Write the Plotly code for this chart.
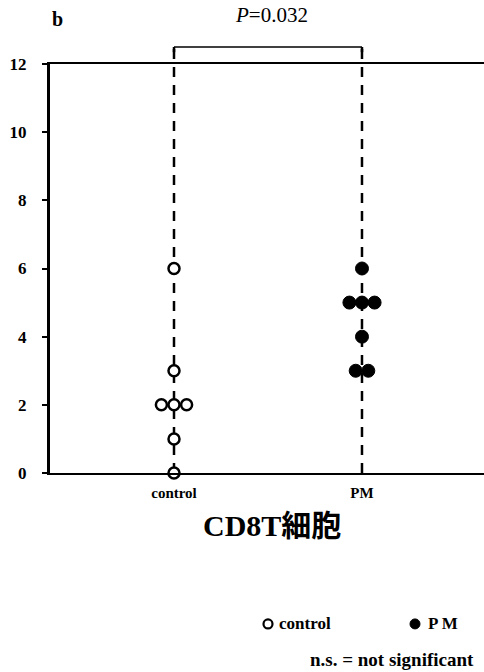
import plotly.graph_objects as go
from collections import Counter

categories = ["control", "PM"]
control_values = [6, 3, 2, 2, 2, 1, 0]
pm_values = [6, 5, 5, 5, 4, 3, 3]
y_ticks = [0, 2, 4, 6, 8, 10, 12]
p_text = "<i>P</i>=0.032"
panel_label = "b"
title_text = "CD8T細胞"
legend_labels = ["control", "P M"]
note_text = "n.s. = not significant"

SERIF = "Liberation Serif, Times New Roman, Noto Sans CJK JP, serif"
cat_pos = {c: i + 1 for i, c in enumerate(categories)}
STEP = 0.067


def spread(values, center):
    counts = Counter(values)
    seen = Counter()
    xs = []
    for v in values:
        n = counts[v]
        i = seen[v]
        seen[v] += 1
        xs.append(center + (i - (n - 1) / 2) * STEP)
    return xs


fig = go.Figure()

BR = 1.0416
for c in categories:
    x = cat_pos[c]
    fig.add_shape(type="line", xref="x", yref="paper", x0=x, x1=x, y0=0, y1=BR,
                  line=dict(color="black", width=2.5, dash="10px,8px"), layer="below")
fig.add_shape(type="line", xref="x", yref="paper", x0=cat_pos["control"], x1=cat_pos["PM"],
              y0=BR, y1=BR, line=dict(color="black", width=1.5))
for c in categories:
    x = cat_pos[c]
    fig.add_shape(type="line", xref="x", yref="paper", x0=x, x1=x, y0=BR, y1=1.029,
                  line=dict(color="black", width=2.5))

fig.add_trace(go.Scatter(
    x=spread(control_values, cat_pos["control"]), y=control_values, mode="markers",
    marker=dict(size=11, color="white", line=dict(color="black", width=2.5)),
    cliponaxis=False, showlegend=False))
fig.add_trace(go.Scatter(
    x=spread(pm_values, cat_pos["PM"]), y=pm_values, mode="markers",
    marker=dict(size=13, color="black", line=dict(color="black", width=1)),
    cliponaxis=False, showlegend=False))

# manual legend
LEG_Y = -0.369
fig.add_shape(type="circle", xref="paper", yref="paper", xsizemode="pixel", ysizemode="pixel",
              xanchor=(268 - 50) / 434, yanchor=LEG_Y, x0=-4.5, x1=4.5, y0=-4.5, y1=4.5,
              line=dict(color="black", width=2.2), fillcolor="white")
fig.add_shape(type="circle", xref="paper", yref="paper", xsizemode="pixel", ysizemode="pixel",
              xanchor=(415 - 50) / 434, yanchor=LEG_Y, x0=-5, x1=5, y0=-5, y1=5,
              line=dict(color="black", width=1), fillcolor="black")

fig.update_layout(
    width=484, height=672,
    margin=dict(l=50, r=0, t=64, b=199),
    paper_bgcolor="white", plot_bgcolor="white",
    font=dict(family=SERIF, color="black"),
    showlegend=False,
    xaxis=dict(range=[0.3404, 2.649], tickvals=[cat_pos[c] for c in categories],
               ticktext=categories, showgrid=False, zeroline=False,
               showline=True, linecolor="black", linewidth=2, mirror=True, ticks="",
               ticklabelstandoff=5,
               tickfont=dict(family=SERIF, size=15, weight="bold"), fixedrange=True),
    yaxis=dict(range=[0, 12], tickvals=y_ticks, showgrid=False, zeroline=False,
               showline=True, linecolor="black", linewidth=3, ticks="outside",
               ticklen=5, tickwidth=1.5, tickcolor="black", ticklabelstandoff=12,
               tickfont=dict(family=SERIF, size=17, weight="bold"), fixedrange=True),
    annotations=[
        dict(text=panel_label, xref="paper", yref="paper", x=0.0, y=1.11,
             xanchor="left", yanchor="middle", showarrow=False,
             font=dict(family=SERIF, size=20, weight="bold")),
        dict(text=p_text, xref="paper", yref="paper", x=0.5115, y=1.12,
             xanchor="center", yanchor="middle", showarrow=False,
             font=dict(family=SERIF, size=21)),
        dict(text=title_text, xref="paper", yref="paper", x=0.5115, y=-0.128,
             xanchor="center", yanchor="middle", showarrow=False,
             font=dict(family=SERIF, size=30, weight="bold")),
        dict(text=legend_labels[0], xref="paper", yref="paper", x=(277 - 50) / 434, y=LEG_Y,
             xanchor="left", yanchor="middle", showarrow=False,
             font=dict(family=SERIF, size=17, weight="bold")),
        dict(text=legend_labels[1], xref="paper", yref="paper", x=(426 - 50) / 434, y=LEG_Y,
             xanchor="left", yanchor="middle", showarrow=False,
             font=dict(family=SERIF, size=17, weight="bold")),
        dict(text=note_text, xref="paper", yref="paper", x=(476 - 50) / 434, y=-0.455,
             xanchor="right", yanchor="middle", showarrow=False,
             font=dict(family=SERIF, size=19, weight="bold")),
    ],
)

fig.write_html("out.html", config={"displayModeBar": False},
               post_script="document.body.style.margin='0';")
